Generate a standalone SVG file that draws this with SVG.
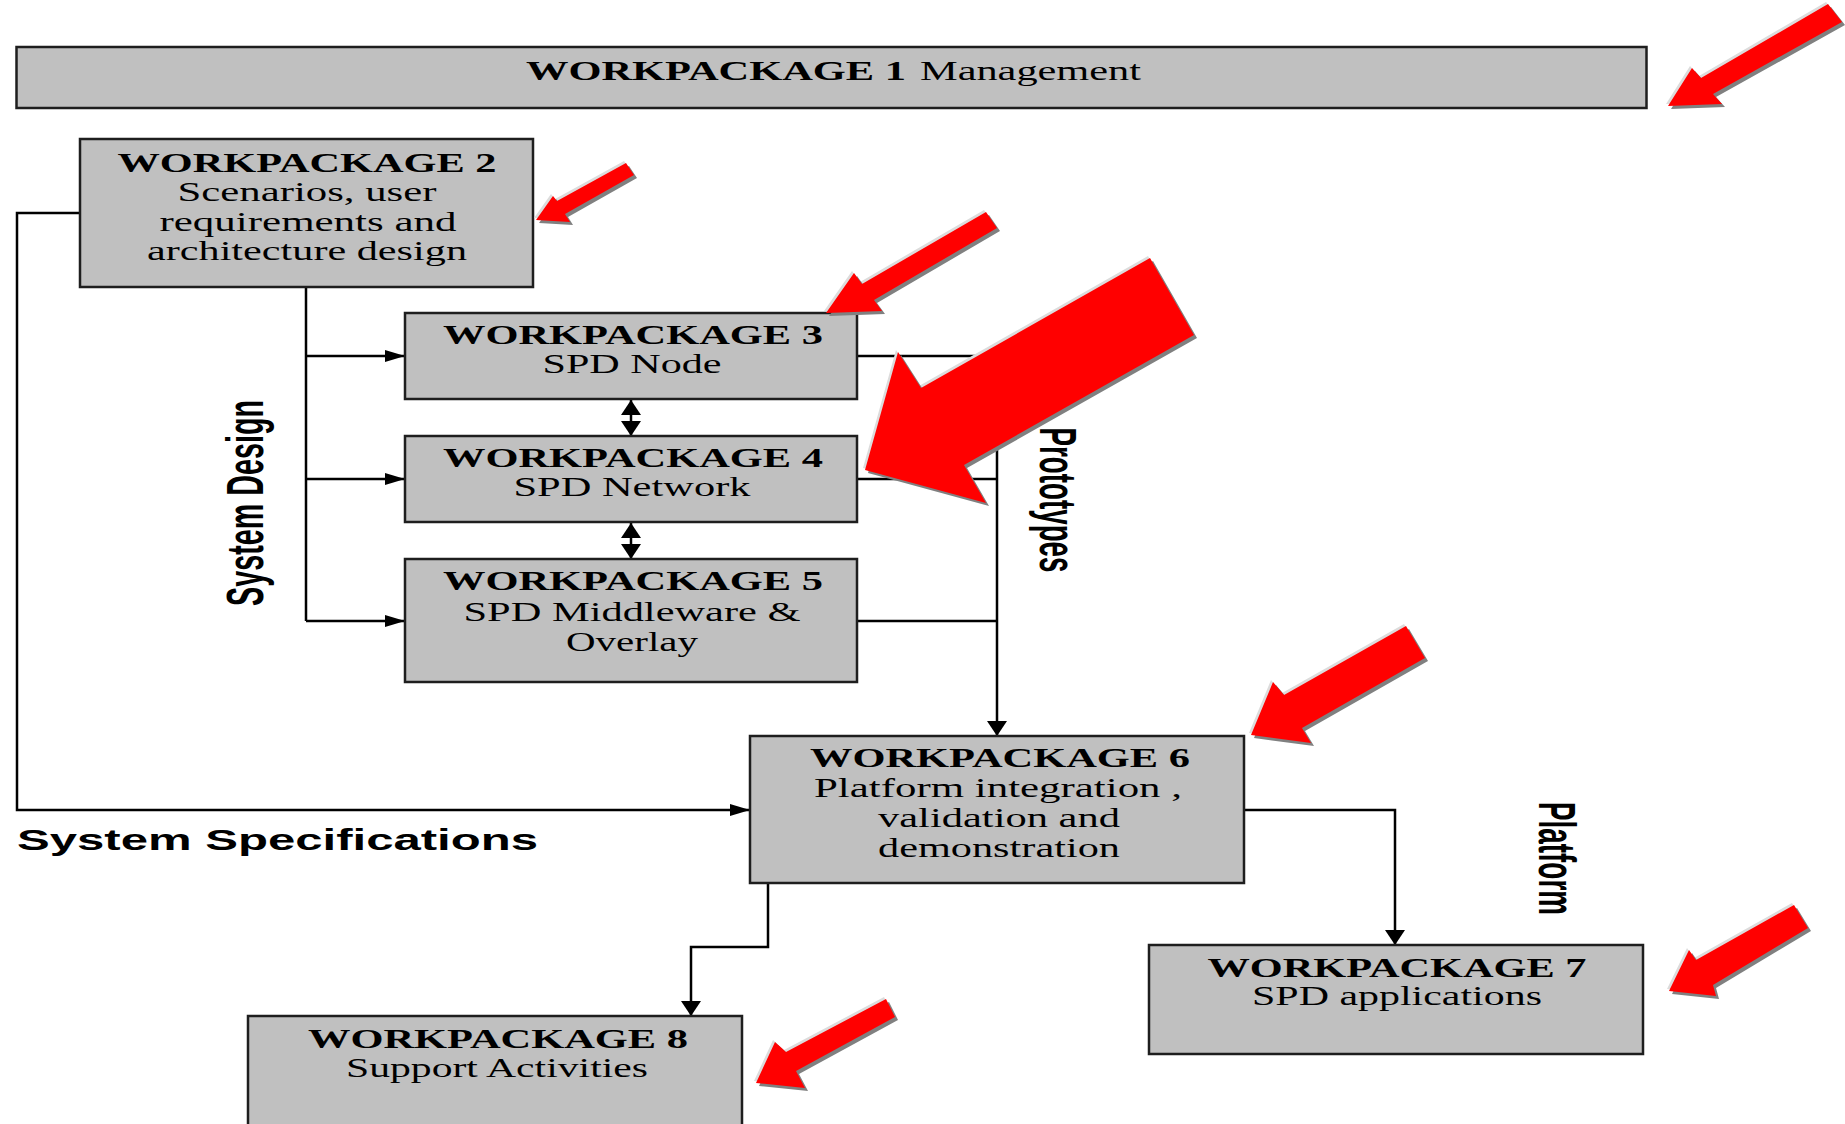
<svg xmlns="http://www.w3.org/2000/svg" xmlns:xlink="http://www.w3.org/1999/xlink" width="1845" height="1124" viewBox="0 0 1845 1124">
<style>
.box{fill:#c0c0c0;stroke:#1e1e1e;stroke-width:2.5}
.h{font-family:"Liberation Serif","Times New Roman",serif;font-weight:bold;font-size:27px;text-anchor:middle;fill:#000}
.t{font-family:"Liberation Serif","Times New Roman",serif;font-size:27px;text-anchor:middle;fill:#000}
.lbl{font-family:"Liberation Sans",Arial,sans-serif;font-weight:bold;font-size:32px;text-anchor:middle;fill:#000}
.spec{font-family:"Liberation Sans",Arial,sans-serif;font-weight:bold;font-size:29px;fill:#000}
.con{fill:none;stroke:#000;stroke-width:2.5}
.hi{fill:#dcdcdc}
.sh{fill:#808080}
.red{fill:#ff0000}
</style>
<defs>
<marker id="ah" viewBox="0 0 20 12" markerWidth="20" markerHeight="12" refX="20" refY="6" orient="auto" markerUnits="userSpaceOnUse"><path d="M0,0 L20,6 L0,12 z" fill="#000"/></marker>
<marker id="av" viewBox="0 0 15 20" markerWidth="15" markerHeight="20" refX="15" refY="10" orient="auto-start-reverse" markerUnits="userSpaceOnUse"><path d="M0,0 L15,10 L0,20 z" fill="#000"/></marker>
<polygon id="ra1" points="1668,106 1692,68 1701,78 1828,4 1842,22 1713,94 1722,104"/>
<polygon id="ra2" points="536,220 553,196 557,201 626,163 634,175 565,214 570,222"/>
<polygon id="ra3" points="826,313 854,273 862,284 986,212 997,228 874,300 882,311"/>
<polygon id="ra4" points="865,470 898,352 921,388 1150,258 1194,335 964,465 986,503"/>
<polygon id="ra5" points="1251,735 1273,682 1284,695 1406,626 1425,658 1302,728 1311,743"/>
<polygon id="ra6" points="1669,991 1689,950 1696,960 1794,905 1808,928 1713,985 1716,996"/>
<polygon id="ra7" points="756,1083 775,1042 786,1052 886,999 895,1017 796,1071 805,1088"/>
</defs>
<rect width="1845" height="1124" fill="#fff"/>

<g id="connectors">
<polyline class="con" points="306,287 306,621"/>
<line class="con" x1="306" y1="356" x2="405" y2="356" marker-end="url(#ah)"/>
<line class="con" x1="306" y1="479" x2="405" y2="479" marker-end="url(#ah)"/>
<line class="con" x1="306" y1="621" x2="405" y2="621" marker-end="url(#ah)"/>
<line class="con" x1="631" y1="400" x2="631" y2="436" marker-start="url(#av)" marker-end="url(#av)"/>
<line class="con" x1="631" y1="523" x2="631" y2="559" marker-start="url(#av)" marker-end="url(#av)"/>
<line class="con" x1="857" y1="356" x2="997" y2="356"/>
<line class="con" x1="857" y1="479" x2="997" y2="479"/>
<line class="con" x1="857" y1="621" x2="997" y2="621"/>
<line class="con" x1="997" y1="356" x2="997" y2="736" marker-end="url(#av)"/>
<polyline class="con" points="80,213 17,213 17,810 750,810" marker-end="url(#ah)"/>
<polyline class="con" points="1244,810 1395,810 1395,945" marker-end="url(#av)"/>
<polyline class="con" points="768,878 768,947 691,947 691,1016" marker-end="url(#av)"/>
</g>

<g id="wp1">
<rect class="box" x="16.5" y="47" width="1630" height="61"/>
<text class="h" x="526" y="80" style="text-anchor:start" textLength="380" lengthAdjust="spacingAndGlyphs">WORKPACKAGE 1</text>
<text class="t" x="920" y="80" style="text-anchor:start" textLength="221" lengthAdjust="spacingAndGlyphs">Management</text>
</g>

<g id="wp2">
<rect class="box" x="80" y="139" width="453" height="148"/>
<text class="h" x="307" y="172" textLength="379" lengthAdjust="spacingAndGlyphs">WORKPACKAGE 2</text>
<text class="t" x="307" y="201" textLength="259" lengthAdjust="spacingAndGlyphs">Scenarios, user</text>
<text class="t" x="308" y="231" textLength="297" lengthAdjust="spacingAndGlyphs">requirements and</text>
<text class="t" x="307" y="260" textLength="320" lengthAdjust="spacingAndGlyphs">architecture design</text>
</g>

<g id="wp3">
<rect class="box" x="405" y="313" width="452" height="86"/>
<text class="h" x="633" y="344" textLength="380" lengthAdjust="spacingAndGlyphs">WORKPACKAGE 3</text>
<text class="t" x="632" y="373" textLength="179" lengthAdjust="spacingAndGlyphs">SPD Node</text>
</g>

<g id="wp4">
<rect class="box" x="405" y="436" width="452" height="86"/>
<text class="h" x="633" y="467" textLength="380" lengthAdjust="spacingAndGlyphs">WORKPACKAGE 4</text>
<text class="t" x="632" y="496" textLength="237" lengthAdjust="spacingAndGlyphs">SPD Network</text>
</g>

<g id="wp5">
<rect class="box" x="405" y="559" width="452" height="123"/>
<text class="h" x="633" y="590" textLength="380" lengthAdjust="spacingAndGlyphs">WORKPACKAGE 5</text>
<text class="t" x="632" y="621" textLength="337" lengthAdjust="spacingAndGlyphs">SPD Middleware &amp;</text>
<text class="t" x="632" y="651" textLength="132" lengthAdjust="spacingAndGlyphs">Overlay</text>
</g>

<g id="wp6">
<rect class="box" x="750" y="736" width="494" height="147"/>
<text class="h" x="1000" y="767" textLength="380" lengthAdjust="spacingAndGlyphs">WORKPACKAGE 6</text>
<text class="t" x="998" y="797" textLength="368" lengthAdjust="spacingAndGlyphs">Platform integration ,</text>
<text class="t" x="999" y="827" textLength="242" lengthAdjust="spacingAndGlyphs">validation and</text>
<text class="t" x="999" y="857" textLength="242" lengthAdjust="spacingAndGlyphs">demonstration</text>
</g>

<g id="wp7">
<rect class="box" x="1149" y="945" width="494" height="109"/>
<text class="h" x="1397" y="977" textLength="379" lengthAdjust="spacingAndGlyphs">WORKPACKAGE 7</text>
<text class="t" x="1397" y="1005" textLength="290" lengthAdjust="spacingAndGlyphs">SPD applications</text>
</g>

<g id="wp8">
<rect class="box" x="248" y="1016" width="494" height="130"/>
<text class="h" x="498" y="1048" textLength="380" lengthAdjust="spacingAndGlyphs">WORKPACKAGE 8</text>
<text class="t" x="497" y="1077" textLength="302" lengthAdjust="spacingAndGlyphs">Support Activities</text>
</g>

<g id="labels">
<text class="spec" x="17" y="850" textLength="521" lengthAdjust="spacingAndGlyphs">System Specifications</text>
<text class="lbl" transform="translate(262.5,503) scale(1.6,1) rotate(-90)" x="0" y="0" textLength="206" lengthAdjust="spacingAndGlyphs">System Design</text>
<text class="lbl" transform="translate(1039.5,500) scale(1.6,1) rotate(90)" x="0" y="0" textLength="145" lengthAdjust="spacingAndGlyphs">Prototypes</text>
<text class="lbl" transform="translate(1539,858.5) scale(1.6,1) rotate(90)" x="0" y="0" textLength="113" lengthAdjust="spacingAndGlyphs">Platform</text>
</g>

<g id="red-arrows">
<use xlink:href="#ra1" class="hi" transform="translate(-2,-2)"/><use xlink:href="#ra1" class="sh" transform="translate(3,3)"/><use xlink:href="#ra1" class="red"/>
<use xlink:href="#ra2" class="hi" transform="translate(-2,-2)"/><use xlink:href="#ra2" class="sh" transform="translate(3,3)"/><use xlink:href="#ra2" class="red"/>
<use xlink:href="#ra3" class="hi" transform="translate(-2,-2)"/><use xlink:href="#ra3" class="sh" transform="translate(3,3)"/><use xlink:href="#ra3" class="red"/>
<use xlink:href="#ra4" class="hi" transform="translate(-2,-2)"/><use xlink:href="#ra4" class="sh" transform="translate(3,3)"/><use xlink:href="#ra4" class="red"/>
<use xlink:href="#ra5" class="hi" transform="translate(-2,-2)"/><use xlink:href="#ra5" class="sh" transform="translate(3,3)"/><use xlink:href="#ra5" class="red"/>
<use xlink:href="#ra6" class="hi" transform="translate(-2,-2)"/><use xlink:href="#ra6" class="sh" transform="translate(3,3)"/><use xlink:href="#ra6" class="red"/>
<use xlink:href="#ra7" class="hi" transform="translate(-2,-2)"/><use xlink:href="#ra7" class="sh" transform="translate(3,3)"/><use xlink:href="#ra7" class="red"/>
</g>
</svg>
